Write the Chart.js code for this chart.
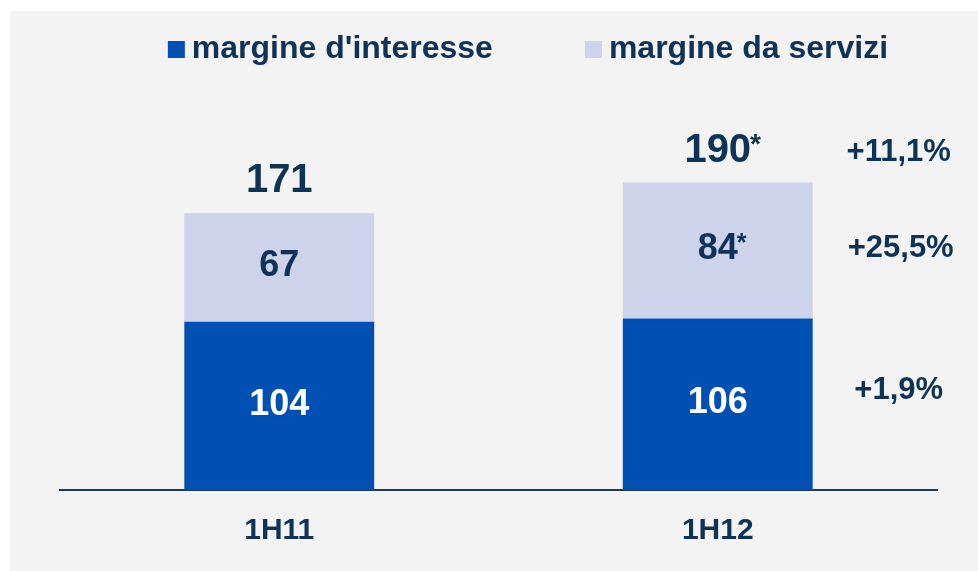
<!DOCTYPE html>
<html>
<head>
<meta charset="utf-8">
<script src="https://cdn.jsdelivr.net/npm/chart.js@4/dist/chart.umd.min.js"></script>
<style>
  html, body { margin: 0; padding: 0; background: #ffffff; }
  canvas { display: block; }
</style>
</head>
<body>
<canvas id="c" width="978" height="571"></canvas>
<script>
// ---- data ----
const categories = ['1H11', '1H12'];
const seriesNames = ["margine d'interesse", 'margine da servizi'];
const interesse = [104, 106];
const servizi = [67, 84];
const totals = [171, 190];
const servizi_star = [false, true];
const totals_star = [false, true];
const growth = ['+1,9%', '+25,5%', '+11,1%']; // interesse, servizi, totale

const NAVY = '#0f3356';
const DARK = '#0050b3';
const LIGHT = '#cdd3ea';
const FONT = '"Liberation Sans", Arial, sans-serif';

function capText(ctx, text, x, capCenterY, size, color, star) {
  ctx.font = 'bold ' + size + 'px ' + FONT;
  ctx.fillStyle = color;
  ctx.textAlign = 'center';
  ctx.textBaseline = 'alphabetic';
  const base = capCenterY + 0.358 * size;
  ctx.fillText(text, x, base);
  if (star) {
    const w = ctx.measureText(text).width;
    ctx.font = 'bold ' + Math.round(size * 0.7) + 'px ' + FONT;
    ctx.textAlign = 'left';
    ctx.fillText('*', x + w / 2 - 1, base - 0.23 * size);
  }
}

const bgPlugin = {
  id: 'bg',
  beforeDraw(chart) {
    const ctx = chart.ctx;
    ctx.save();
    ctx.fillStyle = '#ffffff';
    ctx.fillRect(0, 0, chart.width, chart.height);
    ctx.fillStyle = '#f3f3f3';
    ctx.fillRect(10, 11, chart.width - 10, chart.height - 11);
    ctx.restore();
  }
};

const legendPlugin = {
  id: 'customLegend',
  afterDraw(chart) {
    const ctx = chart.ctx;
    ctx.save();
    const size = 32;
    ctx.font = 'bold ' + size + 'px ' + FONT;
    const box = 17, gapText = 7, gapItem = 92;
    const items = chart.data.datasets.map(ds => ({
      label: ds.label, color: ds.backgroundColor, w: ctx.measureText(ds.label).width
    }));
    let total = 0;
    items.forEach((it, i) => { total += box + gapText + it.w + (i ? gapItem : 0); });
    let x = 528 - total / 2;
    const baseline = 58;
    items.forEach(it => {
      ctx.fillStyle = it.color;
      ctx.fillRect(x, baseline - box, box, box);
      ctx.fillStyle = NAVY;
      ctx.textAlign = 'left';
      ctx.textBaseline = 'alphabetic';
      ctx.fillText(it.label, x + box + gapText, baseline);
      x += box + gapText + it.w + gapItem;
    });
    ctx.restore();
  }
};

const labelPlugin = {
  id: 'labels',
  afterDatasetsDraw(chart) {
    const ctx = chart.ctx;
    ctx.save();
    const m0 = chart.getDatasetMeta(0);
    const m1 = chart.getDatasetMeta(1);
    categories.forEach((c, i) => {
      const e0 = m0.data[i], e1 = m1.data[i];
      capText(ctx, String(interesse[i]), e0.x, (e0.y + e0.base) / 2 - 4, 36, '#ffffff', false);
      capText(ctx, String(servizi[i]), e1.x, (e1.y + e1.base) / 2 - 4, 36, NAVY, servizi_star[i]);
      capText(ctx, String(totals[i]), e1.x, e1.y - 35, 40, NAVY, totals_star[i]);
    });
    const last = categories.length - 1;
    const e0 = m0.data[last], e1 = m1.data[last];
    const gx = e1.x + e1.width / 2 + 86;
    capText(ctx, growth[0], gx, (e0.y + e0.base) / 2 - 16, 31, NAVY, false);
    capText(ctx, growth[1], gx + 2, (e1.y + e1.base) / 2 - 5, 31, NAVY, false);
    capText(ctx, growth[2], gx, e1.y - 33, 31, NAVY, false);
    ctx.restore();
  }
};

new Chart(document.getElementById('c'), {
  type: 'bar',
  data: {
    labels: categories,
    datasets: [
      { label: seriesNames[0], data: interesse, backgroundColor: DARK },
      { label: seriesNames[1], data: servizi, backgroundColor: LIGHT }
    ]
  },
  options: {
    responsive: false,
    animation: false,
    devicePixelRatio: 1,
    layout: { padding: { top: 95, left: 60, right: 41, bottom: 0 } },
    datasets: { bar: { categoryPercentage: 1, barPercentage: 0.433 } },
    plugins: { legend: { display: false }, tooltip: { enabled: false } },
    scales: {
      x: {
        stacked: true,
        grid: { display: false, drawTicks: false },
        border: { display: true, color: '#1d3a5c', width: 2 },
        ticks: { color: NAVY, font: { family: FONT, size: 30, weight: 'bold' }, padding: 23 },
        afterFit(scale) { scale.height = 81; }
      },
      y: { stacked: true, display: false, min: 0, max: 244 }
    }
  },
  plugins: [bgPlugin, legendPlugin, labelPlugin]
});
</script>
</body>
</html>
